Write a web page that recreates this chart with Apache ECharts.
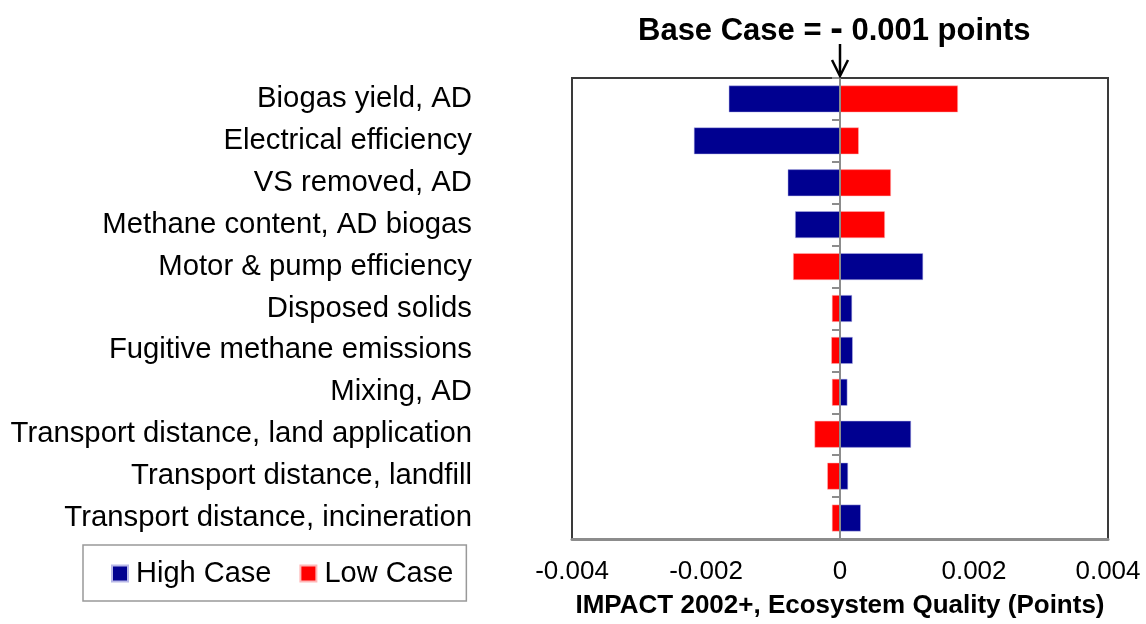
<!DOCTYPE html>
<html lang="en">
<head>
<meta charset="UTF-8" />
<title>Tornado - Ecosystem Quality</title>
<script src="https://cdn.jsdelivr.net/npm/echarts@6/dist/echarts.min.js"></script>
<style>
  html, body { margin: 0; padding: 0; background: #fff; }
  #chart { width: 1146px; height: 624px; }
</style>
</head>
<body>
<div id="chart"></div>
<script>
  // parameters, top to bottom
  var categories = [
    "Biogas yield, AD",
    "Electrical efficiency",
    "VS removed, AD",
    "Methane content, AD biogas",
    "Motor & pump efficiency",
    "Disposed solids",
    "Fugitive methane emissions",
    "Mixing, AD",
    "Transport distance, land application",
    "Transport distance, landfill",
    "Transport distance, incineration"
  ];
  // change from base case (points)
  var highCase = [-0.00166, -0.00218, -0.00078, -0.00067, 0.00124, 0.00018, 0.00019, 0.00011, 0.00106, 0.00012, 0.00031];
  var lowCase = [0.00176, 0.00028, 0.00076, 0.00067, -0.0007, -0.00012, -0.00013, -0.00012, -0.00038, -0.00019, -0.00012];
  var xTicks = [-0.004, -0.002, 0, 0.002, 0.004];

  var font = "Liberation Sans, Arial, sans-serif";
  var chart = echarts.init(document.getElementById("chart"));

  var option = {
    animation: false,
    textStyle: { fontFamily: font, color: "#000" },
    title: {
      text: "Base Case = {d|-} 0.001 points",
      left: 633,
      top: 7,
      textStyle: {
        fontFamily: font, fontSize: 31, fontWeight: "bold", color: "#000",
        rich: { d: { fontFamily: font, fontSize: 38, fontWeight: "bold", color: "#000" } }
      }
    },
    legend: {
      data: ["High Case", "Low Case"],
      left: 83,
      top: 545,
      icon: "rect",
      itemWidth: 16,
      itemHeight: 16,
      itemGap: 28,
      padding: [14, 13, 13, 28],
      borderColor: "#999",
      borderWidth: 1.5,
      textStyle: { fontFamily: font, fontSize: 29, color: "#000", padding: [0, 0, 0, 3] }
    },
    grid: {
      left: 572,
      right: 38,
      top: 78,
      bottom: 79,
      show: true,
      borderColor: "#3a3a3a",
      borderWidth: 2,
      containLabel: false
    },
    xAxis: {
      type: "value",
      min: xTicks[0],
      max: xTicks[xTicks.length - 1],
      interval: 0.002,
      splitLine: { show: false },
      axisLine: { show: true, onZero: false, lineStyle: { color: "#8c8c8c", width: 3 } },
      axisTick: { show: false },
      axisLabel: {
        fontFamily: font,
        fontSize: 26,
        color: "#000",
        margin: 20,
        formatter: function (v) { return Math.abs(v) < 1e-9 ? "0" : v.toFixed(3); }
      },
      name: "IMPACT 2002+, Ecosystem Quality (Points)",
      nameLocation: "middle",
      nameGap: 54,
      nameTextStyle: { fontFamily: font, fontSize: 26, fontWeight: "bold", color: "#000" }
    },
    yAxis: [
      {
        type: "category",
        data: categories,
        inverse: true,
        axisLine: { show: false, onZero: false },
        axisTick: { show: false },
        axisLabel: { fontFamily: font, fontSize: 29.3, color: "#000", margin: 100 }
      },
      {
        type: "category",
        data: categories,
        inverse: true,
        position: "right",
        axisLine: { show: true, onZero: true, lineStyle: { color: "#8c8c8c", width: 2 } },
        axisTick: { show: true, inside: true, length: 8, lineStyle: { color: "#8c8c8c", width: 2 } },
        axisLabel: { show: false },
        z: 5
      }
    ],
    series: [
      {
        name: "High Case",
        type: "bar",
        stack: "delta",
        data: highCase,
        barWidth: "64%",
        itemStyle: { color: "#000090", borderColor: "#b8b8e8", borderWidth: 0.5 }
      },
      {
        name: "Low Case",
        type: "bar",
        stack: "delta",
        data: lowCase,
        barWidth: "64%",
        itemStyle: { color: "#ff0000", borderColor: "#ffb8b8", borderWidth: 0.5 }
      }
    ]
  };

  chart.setOption(option);

  // arrow pointing at the base case (zero) line
  var zx = chart.convertToPixel({ xAxisIndex: 0 }, 0);
  chart.setOption({
    graphic: [
      { type: "line", shape: { x1: zx, y1: 44, x2: zx, y2: 75 }, style: { stroke: "#000", lineWidth: 2.5 }, z: 10 },
      { type: "polyline", shape: { points: [[zx - 8, 60], [zx, 76], [zx + 8, 60]] }, style: { stroke: "#000", lineWidth: 2.5, fill: null }, z: 10 }
    ]
  });
</script>
</body>
</html>
